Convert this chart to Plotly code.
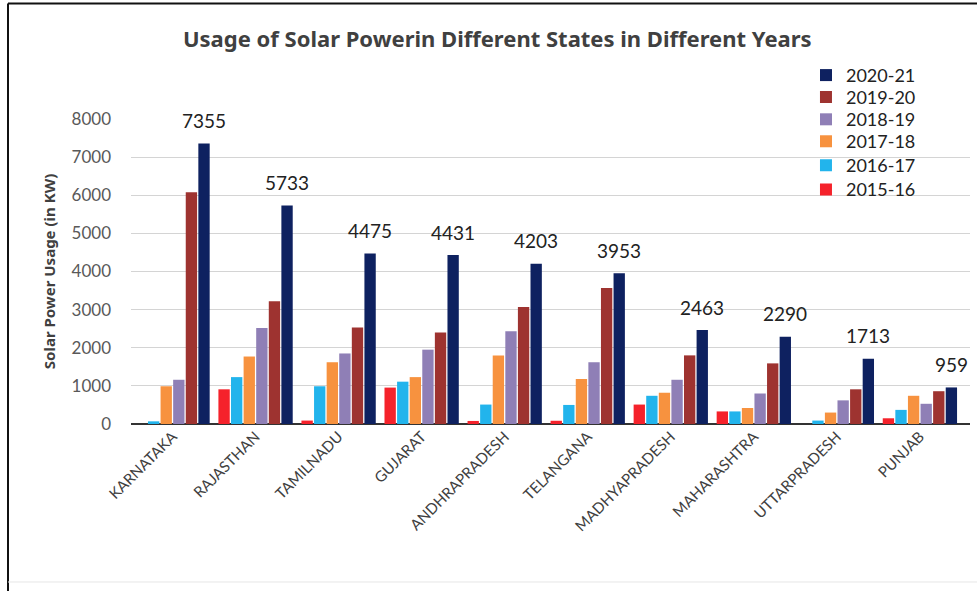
import plotly.graph_objects as go

states = ["KARNATAKA", "RAJASTHAN", "TAMILNADU", "GUJARAT", "ANDHRAPRADESH",
          "TELANGANA", "MADHYAPRADESH", "MAHARASHTRA", "UTTARPRADESH", "PUNJAB"]

years = ["2015-16", "2016-17", "2017-18", "2018-19", "2019-20", "2020-21"]

usage_2015_16 = [0, 910, 90, 955, 80, 85, 510, 330, 0, 150]
usage_2016_17 = [70, 1230, 990, 1110, 510, 500, 740, 330, 90, 370]
usage_2017_18 = [990, 1770, 1620, 1230, 1800, 1180, 820, 420, 300, 740]
usage_2018_19 = [1160, 2520, 1850, 1950, 2430, 1620, 1160, 800, 620, 530]
usage_2019_20 = [6080, 3220, 2530, 2400, 3070, 3570, 1800, 1590, 910, 860]
usage_2020_21 = [7355, 5733, 4475, 4431, 4203, 3953, 2463, 2290, 1713, 959]

series = [usage_2015_16, usage_2016_17, usage_2017_18,
          usage_2018_19, usage_2019_20, usage_2020_21]
colors = ["#F5222B", "#22B4EC", "#F7923F", "#8F7FB6", "#9E3330", "#0E2160"]

y_ticks = [0, 1000, 2000, 3000, 4000, 5000, 6000, 7000, 8000]

# each year gets its own legend box so the entries can be stacked freely
legend_names = ["legend6", "legend5", "legend4", "legend3", "legend2", "legend"]
legend_y = [0.768, 0.847, 0.926, 0.998, 1.071, 1.143]

fig = go.Figure()
for year, vals, col, lg in zip(years, series, colors, legend_names):
    fig.add_trace(go.Bar(name=year, x=states, y=vals, marker_color=col,
                         marker_line_width=0, legend=lg, showlegend=True))

# value labels above the latest-year bars
for st, v in zip(states, usage_2020_21):
    fig.add_annotation(x=st, y=v, text=str(v), showarrow=False,
                       xshift=31.6, yshift=23, yanchor="middle",
                       font=dict(family="Lato", size=19, color="#222222"))

# outer frame
fig.add_shape(type="line", xref="paper", yref="paper",
              x0=-0.1466, x1=-0.1466, y0=-0.56, y1=1.379,
              line=dict(color="#111111", width=2))
fig.add_shape(type="line", xref="paper", yref="paper",
              x0=-0.1466, x1=1.01, y0=1.379, y1=1.379,
              line=dict(color="#111111", width=2))
fig.add_shape(type="line", xref="paper", yref="paper",
              x0=-0.1466, x1=1.01, y0=-0.518, y1=-0.518,
              line=dict(color="#E6E6E6", width=1))

legend_style = dict(x=0.8045, xanchor="left", yanchor="middle",
                    bgcolor="rgba(0,0,0,0)", borderwidth=0,
                    font=dict(family="Lato", size=18, color="#222222"))
legends = {lg: dict(legend_style, y=ly) for lg, ly in zip(legend_names, legend_y)}

fig.update_layout(
    width=977, height=591,
    showlegend=True,
    margin=dict(l=131, r=7, t=119, b=167),
    paper_bgcolor="white", plot_bgcolor="white",
    barmode="group", bargap=0.09, bargroupgap=0.1,
    title=dict(text="<b>Usage of Solar Powerin Different States in Different Years</b>",
               x=0.509, xanchor="center", y=0.934, yanchor="middle",
               font=dict(family="Noto Sans", size=22, color="#404040")),
    font=dict(family="Lato", color="#404040"),
    xaxis=dict(tickangle=-45, tickfont=dict(family="Lato", size=15, color="#404040"),
               showgrid=False, showline=False, ticks=""),
    yaxis=dict(range=[0, 8000], tickvals=y_ticks,
               tickfont=dict(family="Lato", size=17, color="#595959"),
               gridcolor="#D4D4D4", gridwidth=1,
               zeroline=True, zerolinecolor="#333333", zerolinewidth=2,
               ticklabelstandoff=19,
               title=dict(text="<b>Solar Power Usage (in KW)</b>", standoff=12,
                          font=dict(family="Noto Sans", size=15, color="#404040"))),
    **legends,
)

fig.write_html("out.html")
